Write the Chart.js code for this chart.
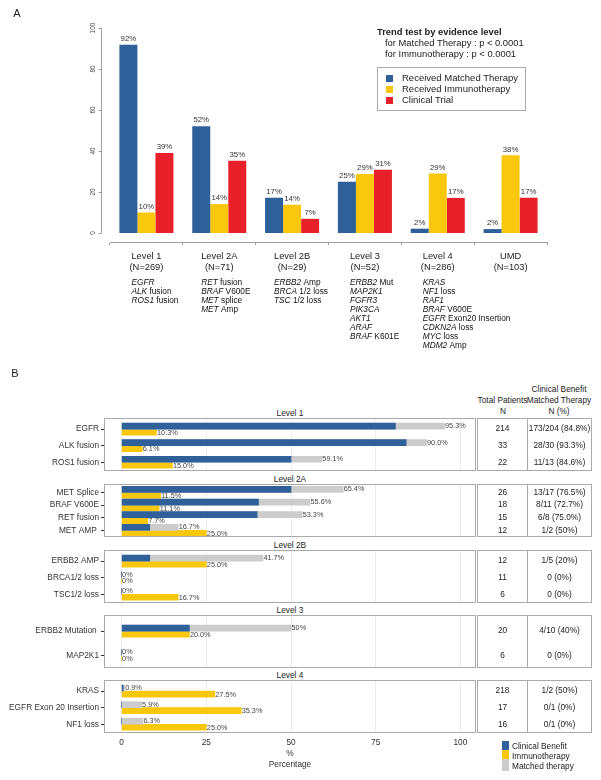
<!DOCTYPE html>
<html>
<head>
<meta charset="utf-8">
<script src="https://cdn.jsdelivr.net/npm/chart.js@4.4.1/dist/chart.umd.min.js"></script>
<style>
  body { margin: 0; background: #fff; }
  #page { position: relative; width: 601px; height: 780px; font-family: "Liberation Sans", Arial, sans-serif; color: #222; overflow: hidden; }
  #page canvas { position: absolute; left: 0; }
  .t { position: absolute; white-space: nowrap; line-height: 1; }
  .box { position: absolute; border: 1px solid #aaa; box-sizing: border-box; }
  .key { position: absolute; }
</style>
</head>
<body>
<div id="page">
  <canvas id="chartA" width="601" height="360" style="top:0"></canvas>
</div>
<script>
// ---- panel A data ----
var levelsA = ["Level 1", "Level 2A", "Level 2B", "Level 3", "Level 4", "UMD"];
var countsA = ["(N=269)", "(N=71)", "(N=29)", "(N=52)", "(N=286)", "(N=103)"];
var matchedA = [91.8, 52.1, 17.2, 25.0, 2.1, 1.9];
var immunoA = [10.0, 14.1, 13.8, 28.8, 29.0, 37.9];
var trialA = [39.0, 35.2, 6.9, 30.8, 17.1, 17.2];
var yTicksA = [0, 20, 40, 60, 80, 100];
// *...* = italic gene name
var genesA = [
  ["*EGFR*", "*ALK* fusion", "*ROS1* fusion"],
  ["*RET* fusion", "*BRAF* V600E", "*MET* splice", "*MET* Amp"],
  ["*ERBB2* Amp", "*BRCA* 1/2 loss", "*TSC* 1/2 loss"],
  ["*ERBB2* Mut", "*MAP2K1*", "*FGFR3*", "*PIK3CA*", "*AKT1*", "*ARAF*", "*BRAF* K601E"],
  ["*KRAS*", "*NF1* loss", "*RAF1*", "*BRAF* V600E", "*EGFR* Exon20 Insertion", "*CDKN2A* loss", "*MYC* loss", "*MDM2* Amp"],
  []
];

// ---- panel B data ----
var facetLevels = ["Level 1", "Level 2A", "Level 2B", "Level 3", "Level 4"];
var rowLevel = ["Level 1", "Level 1", "Level 1", "Level 2A", "Level 2A", "Level 2A", "Level 2A",
  "Level 2B", "Level 2B", "Level 2B", "Level 3", "Level 3", "Level 4", "Level 4", "Level 4"];
var rowGene = ["EGFR", "ALK fusion", "ROS1 fusion", "MET Splice", "BRAF V600E", "RET fusion", "MET AMP ",
  "ERBB2 AMP", "BRCA1/2 loss", "TSC1/2 loss", "ERBB2 Mutation ", "MAP2K1", "KRAS", "EGFR Exon 20 Insertion", "NF1 loss"];
var rowMatched = [95.3, 90.0, 59.1, 65.4, 55.6, 53.3, 16.7, 41.7, 0, 0, 50, 0, 0.9, 5.9, 6.3];
var rowMatchedText = ["95.3%", "90.0%", "59.1%", "65.4%", "55.6%", "53.3%", "16.7%", "41.7%", "0%", "0%", "50%", "0%", "0.9%", "5.9%", "6.3%"];
var rowBenefit = [80.8, 84.0, 50.0, 50.0, 40.4, 40.0, 8.3, 8.3, 0, 0, 20.0, 0, 0.45, 0, 0];
var rowImmuno = [10.3, 6.1, 15.0, 11.5, 11.1, 7.7, 25.0, 25.0, 0, 16.7, 20.0, 0, 27.5, 35.3, 25.0];
var rowTotal = [214, 33, 22, 26, 18, 15, 12, 12, 11, 6, 20, 6, 218, 17, 16];
var rowBenefitN = ["173/204 (84.8%)", "28/30 (93.3%)", "11/13 (84.6%)", "13/17 (76.5%)", "8/11 (72.7%)", "6/8 (75.0%)", "1/2 (50%)",
  "1/5 (20%)", "0 (0%)", "0 (0%)", "4/10 (40%)", "0 (0%)", "1/2 (50%)", "0/1 (0%)", "0/1 (0%)"];
var xTicksB = [0, 25, 50, 75, 100];

var FONT = '"Liberation Sans", Arial, sans-serif';
var BLUE = "#30609a", YELLOW = "#f9c80e", RED = "#e8202a", GREY = "#cccccc";

Chart.defaults.font.family = FONT;
Chart.defaults.color = "#222";
Chart.defaults.animation = false;

var page = document.getElementById("page");

function put(text, x, y, size, align, extra) {
  var d = document.createElement("div");
  d.className = "t";
  d.textContent = text;
  d.style.left = x + "px";
  d.style.top = y + "px";
  d.style.fontSize = size + "px";
  d.style.transform = align === "center" ? "translate(-50%,-50%)" : "translateY(-50%)";
  if (extra) d.style.cssText += extra;
  page.appendChild(d);
}

// ---------- Panel A ----------
var panelADeco = {
  id: "panelADeco",
  afterDraw: function (chart) {
    var ctx = chart.ctx, y = chart.scales.y, x = chart.scales.x;
    ctx.save();
    // y axis (R style, detached from bars)
    var ax = Math.round(chart.chartArea.left - 9) + 0.5;
    ctx.strokeStyle = "#a0a0a0";
    ctx.lineWidth = 1;
    ctx.beginPath();
    ctx.moveTo(ax, y.getPixelForValue(0));
    ctx.lineTo(ax, y.getPixelForValue(100));
    yTicksA.forEach(function (v) {
      var p = Math.round(y.getPixelForValue(v)) + 0.5;
      ctx.moveTo(ax - 3, p);
      ctx.lineTo(ax, p);
    });
    ctx.stroke();
    ctx.fillStyle = "#444";
    ctx.font = "6.5px " + FONT;
    ctx.textAlign = "center";
    ctx.textBaseline = "middle";
    yTicksA.forEach(function (v) {
      ctx.save();
      ctx.translate(ax - 8, y.getPixelForValue(v));
      ctx.rotate(-Math.PI / 2);
      ctx.fillText(String(v), 0, 0);
      ctx.restore();
    });

    // value labels
    ctx.fillStyle = "#333";
    ctx.font = "7.8px " + FONT;
    ctx.textBaseline = "bottom";
    chart.data.datasets.forEach(function (ds, i) {
      chart.getDatasetMeta(i).data.forEach(function (bar, j) {
        ctx.fillText(Math.round(ds.data[j]) + "%", bar.x, bar.y - 2);
      });
    });

    // gene lists under each level
    ctx.textAlign = "left";
    ctx.textBaseline = "middle";
    ctx.fillStyle = "#111";
    genesA.forEach(function (lines, i) {
      ctx.font = "9.3px " + FONT;
      var left = x.getPixelForValue(i) - ctx.measureText(levelsA[i]).width / 2;
      lines.forEach(function (line, k) {
        var cx = left;
        line.split("*").forEach(function (seg, s) {
          if (!seg) return;
          ctx.font = (s % 2 ? "italic " : "") + "8.3px " + FONT;
          ctx.fillText(seg, cx, x.bottom + 3 + k * 9);
          cx += ctx.measureText(seg).width;
        });
      });
    });
    ctx.restore();
  }
};

new Chart(document.getElementById("chartA"), {
  type: "bar",
  data: {
    labels: levelsA.map(function (l, i) { return [l, countsA[i]]; }),
    datasets: [
      { label: "Received Matched Therapy", data: matchedA, backgroundColor: BLUE },
      { label: "Received Immunotherapy", data: immunoA, backgroundColor: YELLOW },
      { label: "Clinical Trial", data: trialA, backgroundColor: RED }
    ]
  },
  options: {
    responsive: false,
    devicePixelRatio: 1,
    layout: { padding: { left: 110, right: 54, top: 28, bottom: 80 } },
    datasets: { bar: { barPercentage: 1, categoryPercentage: 0.742 } },
    plugins: { legend: { display: false }, tooltip: { enabled: false } },
    scales: {
      y: { display: false, min: -4.4, max: 100 },
      x: {
        offset: true,
        grid: { offset: true, drawOnChartArea: false, tickLength: 3, color: "#a0a0a0" },
        border: { color: "#a0a0a0" },
        ticks: { padding: 5.5, color: "#222", maxRotation: 0, autoSkip: false, font: { size: 9.3, lineHeight: 1.18 } },
        afterFit: function (s) { s.height = 38; }
      }
    }
  },
  plugins: [panelADeco]
});

// legend + trend text
put("A", 17, 13, 11, "center");
put("Trend test by evidence level", 377, 32, 9.4, "left", "font-weight:bold;");
put("for Matched Therapy : p < 0.0001", 385, 43, 9.4, "left");
put("for Immunotherapy : p < 0.0001", 385, 54, 9.4, "left");
var lb = document.createElement("div");
lb.className = "box";
lb.style.cssText += "left:377px;top:67px;width:149px;height:44px;";
page.appendChild(lb);
[["Received Matched Therapy", BLUE], ["Received Immunotherapy", YELLOW], ["Clinical Trial", RED]].forEach(function (e, i) {
  var k = document.createElement("div");
  k.className = "key";
  k.style.cssText += "left:386px;top:" + (74.5 + i * 11) + "px;width:7px;height:7px;background:" + e[1] + ";";
  page.appendChild(k);
  put(e[0], 402, 78 + i * 11, 9.5, "left");
});

// ---------- Panel B ----------
var facetTops = [418, 484, 550, 615, 680];

var facetDeco = {
  id: "facetDeco",
  afterDatasetsDraw: function (chart, args, opts) {
    var ctx = chart.ctx, rows = opts.rows;
    ctx.save();
    ctx.font = "7.3px " + FONT;
    ctx.fillStyle = "#444";
    ctx.textAlign = "left";
    ctx.textBaseline = "middle";
    var mGrey = chart.getDatasetMeta(1).data, mYel = chart.getDatasetMeta(2).data;
    rows.forEach(function (i, r) {
      ctx.fillText(rowMatchedText[i], mGrey[r].x + 0.5, mGrey[r].y);
      ctx.fillText(rowImmuno[i] === 0 ? "0%" : rowImmuno[i].toFixed(1) + "%", mYel[r].x + 0.5, mYel[r].y + 0.5);
    });
    ctx.restore();
  },
  afterDraw: function (chart, args, opts) {
    var ctx = chart.ctx, a = chart.chartArea, y = chart.scales.y, rows = opts.rows;
    ctx.save();
    ctx.strokeStyle = "#aaaaaa";
    ctx.lineWidth = 1;
    ctx.strokeRect(a.left + 0.5, a.top + 0.5, a.right - a.left - 1, a.bottom - a.top - 1);
    var tl = Math.round(a.right) + 1.5;
    ctx.strokeRect(tl, a.top + 0.5, 114, a.bottom - a.top - 1);
    ctx.beginPath();
    ctx.moveTo(tl + 50, a.top);
    ctx.lineTo(tl + 50, a.bottom);
    ctx.stroke();
    ctx.font = "8.3px " + FONT;
    ctx.fillStyle = "#222";
    ctx.textAlign = "center";
    ctx.textBaseline = "middle";
    rows.forEach(function (i, r) {
      var py = y.getPixelForValue(r);
      ctx.fillText(String(rowTotal[i]), tl + 25, py);
      ctx.fillText(rowBenefitN[i], tl + 82, py);
    });
    ctx.restore();
  }
};

facetLevels.forEach(function (level, k) {
  var rows = [];
  rowLevel.forEach(function (l, i) { if (l === level) rows.push(i); });
  var genes = rows.map(function (i) { return rowGene[i]; });
  var last = k === facetLevels.length - 1;
  var canvas = document.createElement("canvas");
  canvas.width = 601;
  canvas.height = last ? 100 : 53;
  canvas.style.top = facetTops[k] + "px";
  page.appendChild(canvas);

  new Chart(canvas, {
    type: "bar",
    data: {
      datasets: [
        { label: "Clinical Benefit", stack: "m", backgroundColor: BLUE,
          data: rows.map(function (i, r) { return { x: rowBenefit[i], y: r }; }) },
        { label: "Matched therapy", stack: "m", backgroundColor: GREY,
          data: rows.map(function (i, r) { return { x: rowMatched[i], y: r }; }) },
        { label: "Immunotherapy", stack: "i", backgroundColor: YELLOW,
          data: rows.map(function (i, r) { return { x: rowImmuno[i], y: r }; }) }
      ]
    },
    options: {
      indexAxis: "y",
      responsive: false,
      devicePixelRatio: 1,
      layout: { padding: { left: 0, right: 125, top: 0, bottom: 0 } },
      datasets: { bar: { barThickness: 6 } },
      plugins: { legend: { display: false }, tooltip: { enabled: false }, facetDeco: { rows: rows } },
      scales: {
        x: {
          type: "linear", min: -5.2, max: 104.6, stacked: false, offset: false,
          afterBuildTicks: function (s) { s.ticks = xTicksB.map(function (v) { return { value: v }; }); },
          grid: { color: "#ececec", drawTicks: false },
          border: { display: false },
          ticks: { display: last, padding: 4.5, color: "#333", font: { size: 8.3 } },
          title: { display: last, text: ["%", "Percentage"], color: "#333", font: { size: 8.3, lineHeight: 1.33 }, padding: { top: 0, bottom: 9.5 } },
          afterFit: function (s) { s.height = last ? 47 : 0; s.paddingLeft = 0; s.paddingRight = 0; }
        },
        y: {
          type: "linear", reverse: true, offset: false, min: -0.67, max: genes.length - 0.47,
          afterBuildTicks: function (s) { s.ticks = genes.map(function (g, r) { return { value: r }; }); },
          ticks: { autoSkip: false, padding: 2, color: "#333", font: { size: 8.3 },
            callback: function (v) { return genes[v]; } },
          grid: { drawOnChartArea: false, offset: false, tickLength: 3, color: "#333" },
          border: { display: false },
          afterFit: function (s) { s.width = 104; s.paddingTop = 0; s.paddingBottom = 0; }
        }
      }
    },
    plugins: [facetDeco]
  });

  put(level, 290, facetTops[k] - 5.5, 8.3, "center");
});

put("B", 15, 373, 11, "center");
put("Clinical Benefit", 559, 389, 8.3, "center");
put("Total Patients", 502.5, 400, 8.3, "center");
put("Matched Therapy", 559, 400, 8.3, "center");
put("N", 503, 411, 8.3, "center");
put("N (%)", 559, 411, 8.3, "center");

// bottom legend
[["Clinical Benefit", BLUE, 741, 9], ["Immunotherapy", YELLOW, 750, 8.5], ["Matched therapy", GREY, 758.5, 12]].forEach(function (e, i) {
  var k = document.createElement("div");
  k.className = "key";
  k.style.cssText += "left:502px;top:" + e[2] + "px;width:7px;height:" + e[3] + "px;background:" + e[1] + ";";
  page.appendChild(k);
  put(e[0], 512, 746 + i * 10, 8.3, "left");
});
</script>
</body>
</html>
